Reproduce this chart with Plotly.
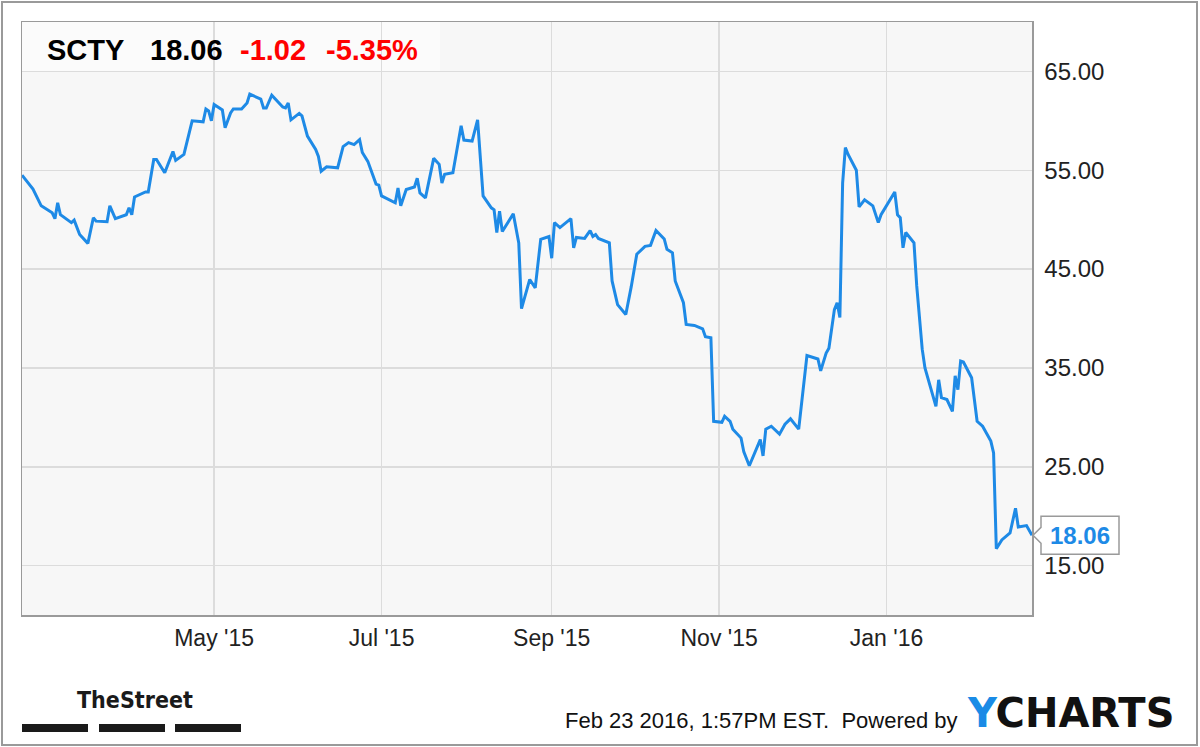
import plotly.graph_objects as go

# ---------------- data ----------------
ticker = "SCTY"
last_price_text = "18.06"
change_text = "-1.02"
change_pct_text = "-5.35%"
timestamp_text = "Feb 23 2016, 1:57PM EST."

dates = [
    "2015-02-20", "2015-02-24", "2015-02-27", "2015-03-03", "2015-03-04", "2015-03-05",
    "2015-03-06", "2015-03-10", "2015-03-11", "2015-03-13", "2015-03-16", "2015-03-18",
    "2015-03-19", "2015-03-23", "2015-03-24", "2015-03-26", "2015-03-30", "2015-03-31",
    "2015-04-01", "2015-04-02", "2015-04-06", "2015-04-07", "2015-04-09", "2015-04-10",
    "2015-04-13", "2015-04-16", "2015-04-17", "2015-04-20", "2015-04-23", "2015-04-27",
    "2015-04-28", "2015-04-29", "2015-04-30", "2015-05-01", "2015-05-04", "2015-05-05",
    "2015-05-07", "2015-05-08", "2015-05-11", "2015-05-13", "2015-05-14", "2015-05-18",
    "2015-05-19", "2015-05-20", "2015-05-22", "2015-05-26", "2015-05-27", "2015-05-28",
    "2015-05-29", "2015-06-01", "2015-06-02", "2015-06-04", "2015-06-07", "2015-06-08",
    "2015-06-09", "2015-06-11", "2015-06-15", "2015-06-17", "2015-06-19", "2015-06-21",
    "2015-06-23", "2015-06-24", "2015-06-26", "2015-06-29", "2015-06-30", "2015-07-01",
    "2015-07-06", "2015-07-07", "2015-07-08", "2015-07-10", "2015-07-13", "2015-07-14",
    "2015-07-15", "2015-07-17", "2015-07-20", "2015-07-22", "2015-07-23", "2015-07-24",
    "2015-07-27", "2015-07-30", "2015-07-31", "2015-08-03", "2015-08-05", "2015-08-07",
    "2015-08-10", "2015-08-11", "2015-08-12", "2015-08-13", "2015-08-14", "2015-08-18",
    "2015-08-20", "2015-08-21", "2015-08-24", "2015-08-26", "2015-08-28", "2015-08-31",
    "2015-09-01", "2015-09-02", "2015-09-04", "2015-09-08", "2015-09-09", "2015-09-10",
    "2015-09-13", "2015-09-15", "2015-09-16", "2015-09-17", "2015-09-18", "2015-09-22",
    "2015-09-23", "2015-09-25", "2015-09-28", "2015-09-30", "2015-10-02", "2015-10-05",
    "2015-10-07", "2015-10-09", "2015-10-12", "2015-10-13", "2015-10-15", "2015-10-16",
    "2015-10-19", "2015-10-20", "2015-10-23", "2015-10-26", "2015-10-27", "2015-10-29",
    "2015-10-30", "2015-11-02", "2015-11-03", "2015-11-05", "2015-11-06", "2015-11-09",
    "2015-11-10", "2015-11-12", "2015-11-16", "2015-11-17", "2015-11-18", "2015-11-20",
    "2015-11-23", "2015-11-25", "2015-11-27", "2015-11-30", "2015-12-03", "2015-12-07",
    "2015-12-08", "2015-12-10", "2015-12-11", "2015-12-13", "2015-12-14", "2015-12-15",
    "2015-12-16", "2015-12-17", "2015-12-18", "2015-12-21", "2015-12-22", "2015-12-24",
    "2015-12-27", "2015-12-29", "2015-12-30", "2016-01-04", "2016-01-05", "2016-01-06",
    "2016-01-07", "2016-01-08", "2016-01-11", "2016-01-12", "2016-01-14", "2016-01-15",
    "2016-01-19", "2016-01-20", "2016-01-21", "2016-01-23", "2016-01-25", "2016-01-26",
    "2016-01-27", "2016-01-28", "2016-01-29", "2016-02-01", "2016-02-02", "2016-02-03",
    "2016-02-05", "2016-02-08", "2016-02-09", "2016-02-10", "2016-02-12", "2016-02-15",
    "2016-02-17", "2016-02-18", "2016-02-21", "2016-02-22", "2016-02-23",
]

prices = [
    54.5, 53.1, 51.4, 50.7, 50.1, 51.7,
    50.5, 49.7, 49.95, 48.5, 47.6, 50.2,
    49.85, 49.8, 51.4, 50.1, 50.5, 51.2,
    50.5, 52.3, 52.8, 52.8, 56.1, 56.1,
    54.75, 56.9, 56.0, 56.6, 60.0, 59.9,
    61.2, 61.0, 60.0, 61.65, 61.1, 59.3,
    60.8, 61.2, 61.2, 61.8, 62.7, 62.2,
    61.3, 61.3, 62.6, 61.4, 61.3, 61.8,
    60.1, 60.75, 60.5, 58.45, 57.1, 56.4,
    54.9, 55.35, 55.25, 57.4, 57.8, 57.6,
    58.1, 56.8, 55.9, 53.6, 53.5, 52.4,
    51.7, 53.2, 51.4, 53.05, 53.3, 54.2,
    52.7, 52.2, 56.2, 55.6, 53.7, 54.6,
    54.75, 59.5, 58.05, 57.95, 60.1, 52.4,
    51.2, 51.0, 48.7, 50.85, 48.8, 50.6,
    47.65, 41.0, 43.95, 43.1, 48.0, 48.3,
    46.1, 49.7, 49.2, 50.1, 47.15, 48.2,
    48.1, 48.9, 48.3, 48.5, 48.1, 47.65,
    43.8, 41.4, 40.4, 43.25, 46.5, 47.3,
    47.4, 48.9, 48.05, 47.0, 46.65, 43.8,
    41.6, 39.4, 39.3, 38.95, 38.15, 38.05,
    29.6, 29.5, 30.1, 29.6, 28.8, 27.9,
    26.5, 25.1, 27.75, 26.1, 28.8, 29.1,
    28.3, 29.3, 29.85, 28.8, 36.25, 35.9,
    34.7, 36.5, 37.0, 40.9, 41.6, 40.1,
    53.7, 57.3, 56.6, 55.0, 51.3, 52.0,
    51.4, 49.7, 50.5, 52.8, 50.5, 50.2,
    47.15, 48.7, 47.65, 43.3, 36.9, 35.0,
    31.1, 33.8, 32.0, 31.8, 30.6, 34.2,
    32.8, 35.7, 35.6, 34.0, 31.8, 29.6,
    29.1, 27.6, 26.4, 16.7, 17.6, 18.3,
    20.8, 18.9, 19.05, 18.5, 18.06,
]

x_tick_vals = ["2015-05-01", "2015-07-01", "2015-09-01", "2015-11-01", "2016-01-01"]
x_tick_text = ["May '15", "Jul '15", "Sep '15", "Nov '15", "Jan '16"]
y_tick_vals = [15, 25, 35, 45, 55, 65]
y_tick_text = ["15.00", "25.00", "35.00", "45.00", "55.00", "65.00"]
x_range = ["2015-02-20", "2016-02-23"]
y_range = [10, 70]

# ---------------- styling ----------------
W, H = 1200, 747
ML, MR, MT, MB = 22, 168, 22, 132
PW, PH = W - ML - MR, H - MT - MB
LINE_BLUE = "#1e8ae6"
RED = "#ff0000"
GRID = "#dcdcdc"
BORDER = "#9a9a9a"
FONT = "Liberation Sans, Arial, sans-serif"


def px_to_paper_x(px):
    return (px - ML) / PW


def px_to_paper_y(py):
    return (H - MB - py) / PH


fig = go.Figure()
fig.add_trace(go.Scatter(
    x=dates, y=prices, mode="lines",
    line=dict(color=LINE_BLUE, width=3),
    hoverinfo="skip", showlegend=False,
))

fig.update_layout(
    width=W, height=H,
    margin=dict(l=ML, r=MR, t=MT, b=MB, pad=0),
    paper_bgcolor="white",
    plot_bgcolor="#f7f7f7",
    showlegend=False,
    hovermode=False,
    font=dict(family=FONT, color="#222222"),
    xaxis=dict(
        type="date", range=x_range,
        tickvals=x_tick_vals, ticktext=x_tick_text,
        showgrid=True, gridcolor=GRID, gridwidth=1.5,
        showline=True, linecolor=BORDER, linewidth=1.5, mirror=True,
        ticks="", zeroline=False,
        tickfont=dict(size=23, color="#222222", family=FONT),
        ticklabelstandoff=2,
    ),
    yaxis=dict(
        side="right", range=y_range,
        tickvals=y_tick_vals, ticktext=y_tick_text,
        showgrid=True, gridcolor=GRID, gridwidth=1.5,
        showline=True, linecolor=BORDER, linewidth=1.5, mirror=True,
        ticks="", zeroline=False,
        tickfont=dict(size=24, color="#222222", family=FONT),
        ticklabelstandoff=6,
    ),
)

shapes = []
# header backdrop
shapes.append(dict(
    type="rect", xref="paper", yref="paper",
    x0=0, x1=px_to_paper_x(440), y0=px_to_paper_y(72), y1=1,
    fillcolor="rgba(255,255,255,0.55)", line=dict(width=0), layer="below",
))
# outer frame around the whole picture
shapes.append(dict(
    type="rect", xref="paper", yref="paper",
    x0=px_to_paper_x(2), x1=px_to_paper_x(1197),
    y0=px_to_paper_y(745), y1=px_to_paper_y(2),
    line=dict(color=BORDER, width=2), fillcolor="rgba(0,0,0,0)",
))
# last value callout (box with pointer), anchored at right edge / last price
shapes.append(dict(
    type="path", xref="paper", yref="y",
    xsizemode="pixel", ysizemode="pixel",
    xanchor=1, yanchor=prices[-1],
    path="M 1 0 L 9 8 L 9 19 L 87 19 L 87 -19 L 9 -19 L 9 -8 Z",
    fillcolor="white", line=dict(color=BORDER, width=1.5), layer="above",
))
# TheStreet bars
for bx0, bx1 in [(22, 88), (99, 165), (175, 241)]:
    shapes.append(dict(
        type="rect", xref="paper", yref="paper",
        x0=px_to_paper_x(bx0), x1=px_to_paper_x(bx1),
        y0=px_to_paper_y(732), y1=px_to_paper_y(724),
        fillcolor="#1a1a1a", line=dict(width=0),
    ))
fig.update_layout(shapes=shapes)

ann = []
hdr_y = px_to_paper_y(50)
for txt, xpx, col in [(ticker, 45, "#000000"), (last_price_text, 148, "#000000"),
                      (change_text, 238, RED), (change_pct_text, 324, RED)]:
    ann.append(dict(
        xref="paper", yref="paper", x=px_to_paper_x(xpx), y=hdr_y,
        xanchor="left", yanchor="middle", showarrow=False,
        text=f"<b>{txt}</b>", font=dict(size=29, color=col, family=FONT),
    ))
# callout text
ann.append(dict(
    xref="paper", yref="y", x=1, y=prices[-1], xshift=48,
    xanchor="center", yanchor="middle", showarrow=False,
    text=f"<b>{last_price_text}</b>",
    font=dict(size=24, color=LINE_BLUE, family=FONT),
))
# footer
ann.append(dict(
    xref="paper", yref="paper", x=px_to_paper_x(75), y=px_to_paper_y(700),
    xanchor="left", yanchor="middle", showarrow=False,
    text="<b>TheStreet</b>",
    font=dict(size=23, color="#1a1a1a",
              family="Liberation Sans Narrow, DejaVu Sans Condensed, Arial Narrow, sans-serif"),
))
ann.append(dict(
    xref="paper", yref="paper", x=px_to_paper_x(960), y=px_to_paper_y(720),
    xanchor="right", yanchor="middle", showarrow=False,
    text=timestamp_text + "&nbsp; Powered by",
    font=dict(size=22, color="#111111", family=FONT),
))
ann.append(dict(
    xref="paper", yref="paper", x=px_to_paper_x(965), y=px_to_paper_y(713),
    xanchor="left", yanchor="middle", showarrow=False,
    text="<b><span style='color:#1a8be6'>Y</span>CHARTS</b>",
    font=dict(size=40, color="#111111", family="DejaVu Sans, sans-serif"),
))
fig.update_layout(annotations=ann)

fig.write_html(
    "out.html",
    config={"displayModeBar": False, "staticPlot": True},
    post_script="document.body.style.margin='0';document.body.style.overflow='hidden';",
)
